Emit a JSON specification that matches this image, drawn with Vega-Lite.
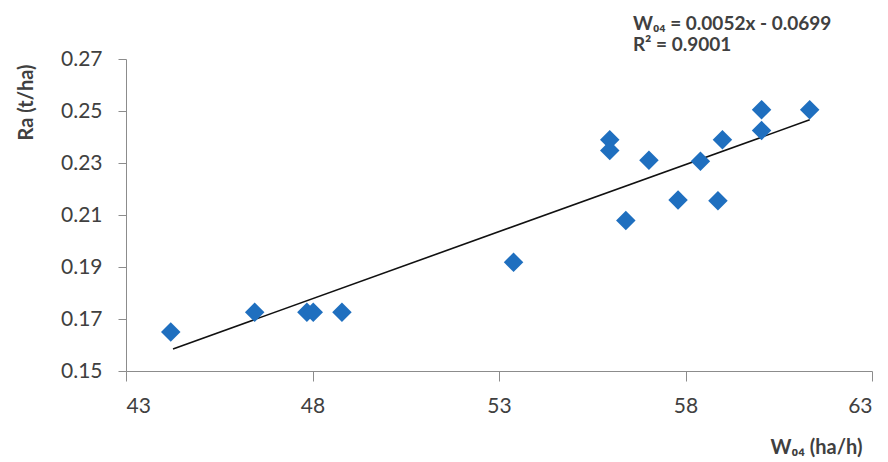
{
  "$schema": "https://vega.github.io/schema/vega-lite/v6.json",
  "width": 746,
  "height": 312,
  "autosize": "none",
  "padding": {"left": 126, "top": 59, "right": 16, "bottom": 91},
  "background": "white",
  "config": {
    "view": {"stroke": null},
    "font": "Lato",
    "axis": {
      "grid": false,
      "domainColor": "#8c8c8c",
      "tickColor": "#8c8c8c",
      "labelColor": "#404040",
      "labelFont": "Lato",
      "labelFontSize": 21,
      "titleFont": "Lato",
      "titleFontWeight": "bold",
      "titleColor": "#404040",
      "titleFontSize": 20
    }
  },
  "datasets": {
    "pts": [
      {"w": 44.2, "ra": 0.165},
      {"w": 46.45, "ra": 0.1726},
      {"w": 47.85, "ra": 0.1726},
      {"w": 48.02, "ra": 0.1726},
      {"w": 48.79, "ra": 0.1726},
      {"w": 53.39, "ra": 0.1918},
      {"w": 55.97, "ra": 0.2389},
      {"w": 55.97, "ra": 0.2348},
      {"w": 56.4, "ra": 0.2079},
      {"w": 57.02, "ra": 0.2311},
      {"w": 57.8, "ra": 0.2158},
      {"w": 58.4, "ra": 0.2307},
      {"w": 58.87, "ra": 0.2155},
      {"w": 58.99, "ra": 0.2389},
      {"w": 60.04, "ra": 0.2425},
      {"w": 60.04, "ra": 0.2505},
      {"w": 61.33, "ra": 0.2505}
    ],
    "fit": [
      {"w": 44.26, "ra": 0.1585},
      {"w": 61.33, "ra": 0.2466}
    ],
    "notes": [
      {"w": 56.59, "ra": 0.2835, "label": "W₀₄ = 0.0052x - 0.0699"},
      {"w": 56.59, "ra": 0.2755, "label": "R² = 0.9001"}
    ]
  },
  "layer": [
    {
      "data": {"name": "fit"},
      "mark": {"type": "line", "color": "#111111", "strokeWidth": 1.6},
      "encoding": {
        "x": {"field": "w", "type": "quantitative"},
        "y": {"field": "ra", "type": "quantitative"}
      }
    },
    {
      "data": {"name": "pts"},
      "mark": {"type": "point", "shape": "diamond", "filled": true, "size": 380, "color": "#1f6fbf", "opacity": 1},
      "encoding": {
        "x": {
          "field": "w",
          "type": "quantitative",
          "scale": {"domain": [43, 63], "nice": false, "zero": false},
          "axis": {
            "values": [43, 48, 53, 58, 63],
            "tickSize": 10,
            "labelPadding": 14,
            "title": "W₀₄ (ha/h)",
            "titleAnchor": "end",
            "titleAlign": "right",
            "titleBaseline": "middle",
            "titleX": 736,
            "titleY": 76
          }
        },
        "y": {
          "field": "ra",
          "type": "quantitative",
          "scale": {"domain": [0.15, 0.27], "nice": false, "zero": false},
          "axis": {
            "values": [0.15, 0.17, 0.19, 0.21, 0.23, 0.25, 0.27],
            "format": ".2f",
            "tickSize": 8,
            "labelPadding": 16,
            "title": "Ra (t/ha)",
            "titleAngle": -90,
            "titleAlign": "center",
            "titleBaseline": "middle",
            "titleX": -100,
            "titleY": 43
          }
        }
      }
    },
    {
      "data": {"name": "notes"},
      "mark": {"type": "text", "align": "left", "baseline": "middle", "fontWeight": "bold", "fontSize": 19, "color": "#404040", "font": "Lato"},
      "encoding": {
        "x": {"field": "w", "type": "quantitative"},
        "y": {"field": "ra", "type": "quantitative"},
        "text": {"field": "label"}
      }
    }
  ]
}
